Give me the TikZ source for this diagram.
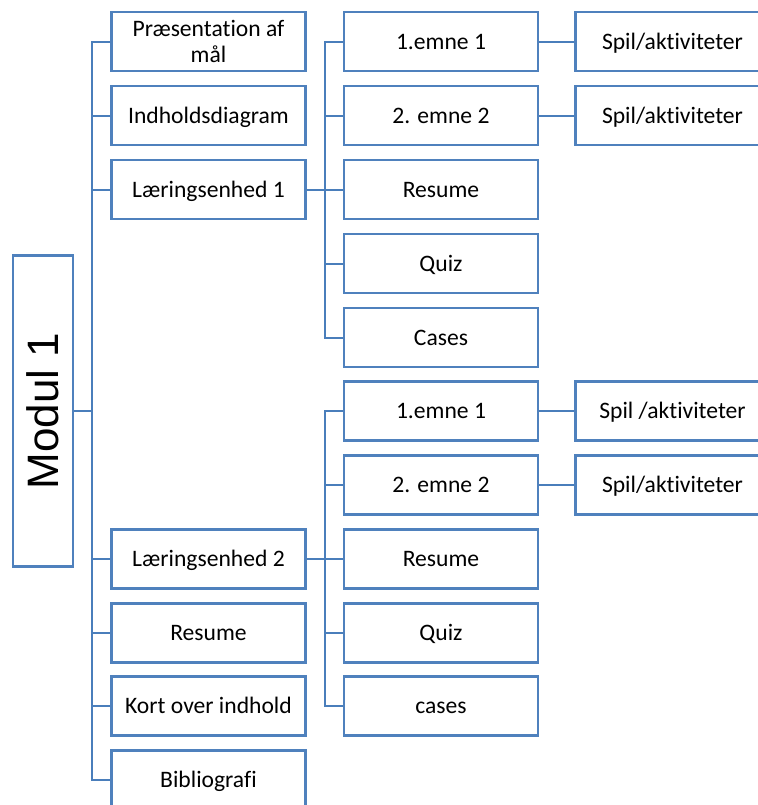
\documentclass[tikz,border=0pt]{standalone}
\usepackage{fontspec}
\setmainfont{Carlito}[Ligatures=NoCommon]
\newfontfamily\modulfont{Liberation Sans}
\usepackage{tikz}
\usetikzlibrary{positioning}
\definecolor{boxblue}{RGB}{79,129,189}
\definecolor{linkblue}{RGB}{74,126,187}

\begin{document}
\begin{tikzpicture}[x=0.5pt, y=-0.5pt,
    box/.style={draw=boxblue, line width=1.2pt, minimum width=97pt, minimum height=29.5pt,
        inner sep=1pt, align=center, text height=9pt, text depth=1.5pt,
        font=\fontsize{11.8}{13}\selectfont},
    link/.style={draw=linkblue, line width=1pt}]
    \useasboundingbox (0,0) rectangle (758,805);
    \clip (0,0) rectangle (758,805);

    % Modul
    \node [box, rotate=90, minimum width=155.5pt, minimum height=30pt, text height=, text depth=,
        font=\modulfont\fontsize{22}{26}\selectfont] (modul) at (43,411) {Modul 1};

    % first column
    \node [box, text height=, text depth=] (praes) at (208.5,41.5) {Præsentation af\\mål};
    \node [box] (indh) at (208.5,115.5) {Indholdsdiagram};
    \node [box] (laer1) at (208.5,189.5) {Læringsenhed 1};
    \node [box] (laer2) at (208.5,559) {Læringsenhed 2};
    \node [box] (res) at (208.5,633) {Resume};
    \node [box] (kort) at (208.5,706) {Kort over indhold};
    \node [box] (bib) at (208.5,780) {Bibliografi};

    % second column, unit 1
    \node [box] (emneA1) at (441,41.5) {1.emne 1};
    \node [box] (emneA2) at (441,115.5) {2. emne 2};
    \node [box] (resA) at (441,189.5) {Resume};
    \node [box] (quizA) at (441,263.5) {Quiz};
    \node [box] (casesA) at (441,337.5) {Cases};

    % second column, unit 2
    \node [box] (emneB1) at (441,411) {1.emne 1};
    \node [box] (emneB2) at (441,485) {2. emne 2};
    \node [box] (resB) at (441,559) {Resume};
    \node [box] (quizB) at (441,633) {Quiz};
    \node [box] (casesB) at (441,706) {cases};

    % third column
    \node [box] (spilA1) at (672.5,41.5) {Spil/aktiviteter};
    \node [box] (spilA2) at (672.5,115.5) {Spil/aktiviteter};
    \node [box] (spilB1) at (672.5,411) {Spil /aktiviteter};
    \node [box] (spilB2) at (672.5,485) {Spil/aktiviteter};

    % Spine
    \coordinate (spine) at (92,0);
    \draw [link] (modul.south) -- (spine |- modul.south);
    \draw [link] (praes.west) -| (spine |- bib.west) -- (bib.west);
    \draw [link] (spine |- indh.west) -- (indh.west);
    \draw [link] (spine |- laer1.west) -- (laer1.west);
    \draw [link] (spine |- laer2.west) -- (laer2.west);
    \draw [link] (spine |- res.west) -- (res.west);
    \draw [link] (spine |- kort.west) -- (kort.west);

    % Fork 1
    \coordinate (forkA) at (324.5,0);
    \draw [link] (laer1.east) -- (resA.west);
    \draw [link] (emneA1.west) -| (forkA |- casesA.west) -- (casesA.west);
    \draw [link] (forkA |- emneA2.west) -- (emneA2.west);
    \draw [link] (forkA |- quizA.west) -- (quizA.west);

    % Fork 2
    \coordinate (forkB) at (324.5,0);
    \draw [link] (laer2.east) -- (resB.west);
    \draw [link] (emneB1.west) -| (forkB |- casesB.west) -- (casesB.west);
    \draw [link] (forkB |- emneB2.west) -- (emneB2.west);
    \draw [link] (forkB |- quizB.west) -- (quizB.west);

    % activities
    \draw [link] (emneA1.east) -- (spilA1.west);
    \draw [link] (emneA2.east) -- (spilA2.west);
    \draw [link] (emneB1.east) -- (spilB1.west);
    \draw [link] (emneB2.east) -- (spilB2.west);

\end{tikzpicture}
\end{document}
